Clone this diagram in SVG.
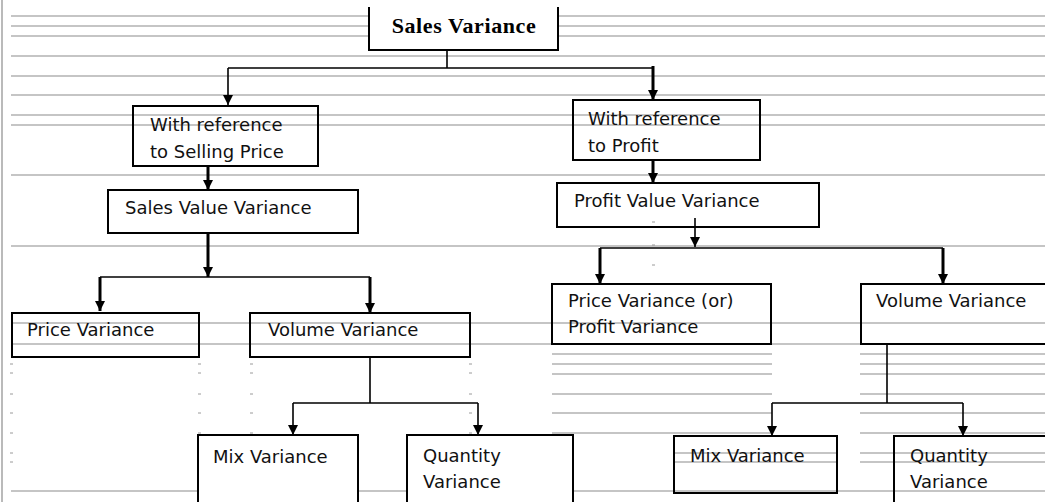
<svg xmlns="http://www.w3.org/2000/svg" width="1045" height="502" viewBox="0 0 1045 502">
  <style>
    .rule { stroke: #8c8c8c; stroke-width: 1.2; fill: none; }
    .tick { stroke: #9a9a9a; stroke-width: 1; fill: none; }
    .box { fill: none; stroke: #000; stroke-width: 2; }
    .boxw { fill: #fff; stroke: #000; stroke-width: 2; }
    .lbl { font-family: "DejaVu Sans", "Verdana", sans-serif; font-size: 18px; fill: #111; }
    .title { font-family: "Liberation Serif", "Times New Roman", serif; font-size: 22px; letter-spacing: 0.6px; font-weight: bold; fill: #000; }
    .wire { stroke: #000; stroke-width: 1.6; fill: none; }
    .wire-b { stroke: #000; stroke-width: 3; fill: none; }
  </style>
  <defs>
    <marker id="arrow" viewBox="0 0 10 10" refX="10" refY="5" markerWidth="10" markerHeight="11" markerUnits="userSpaceOnUse" orient="auto">
      <path d="M0,0 L10,5 L0,10 Z" fill="#000"/>
    </marker>
  </defs>

  <rect width="1045" height="502" fill="#fff"/>

  <!-- ruled background lines -->
  <g id="rules">
    <line class="rule" x1="2" y1="0" x2="2" y2="502"/>
    <line class="rule" x1="11" y1="16" x2="1045" y2="16"/>
    <line class="rule" x1="11" y1="26" x2="1045" y2="26"/>
    <line class="rule" x1="11" y1="36" x2="1045" y2="36"/>
    <line class="rule" x1="11" y1="56" x2="1045" y2="56"/>
    <line class="rule" x1="11" y1="76" x2="1045" y2="76"/>
    <line class="rule" x1="11" y1="95" x2="1045" y2="95"/>
    <line class="rule" x1="11" y1="115" x2="1045" y2="115"/>
    <line class="rule" x1="11" y1="125" x2="1045" y2="125"/>
    <line class="rule" x1="11" y1="175" x2="1045" y2="175"/>
    <line class="rule" x1="11" y1="246" x2="1045" y2="246"/>
    <line class="rule" x1="11" y1="323" x2="1045" y2="323"/>
    <line class="rule" x1="11" y1="344" x2="1045" y2="344"/>
    <path class="rule" d="M552,354H772M860,354H1045M552,364H772M860,364H1045M552,374H772M860,374H1045M552,394H772M860,394H1045M552,413H772M860,413H1045M552,433H772M860,433H1045"/>
    <path class="rule" d="M552,453H573M674,453H837M860,453H1045M552,462H573M674,462H837M860,462H1045"/>
    <line class="rule" x1="11" y1="491" x2="1045" y2="491"/>
    <path class="tick" d="M10,364h3M10,373h3M10,394h3M10,413h3M10,433h3M10,453h3M10,462h3
      M198,364h3M198,373h3M198,394h3M198,413h3M198,433h3
      M250,364h3M250,373h3M250,394h3M250,413h3M250,433h3
      M469,364h3M469,373h3M469,394h3M469,413h3M469,433h3
      M652,222h3M652,245h3M652,265h3M652,284h3"/>
  </g>

  <!-- connectors -->
  <g id="connectors">
    <path class="wire" d="M447,50V68M228,68H653"/>
    <path class="wire" d="M228,68V105" marker-end="url(#arrow)"/>
    <path class="wire-b" d="M653,66V100" marker-end="url(#arrow)"/>
    <path class="wire-b" d="M208,166V190" marker-end="url(#arrow)"/>
    <path class="wire-b" d="M208,233V277" marker-end="url(#arrow)"/>
    <path class="wire" d="M100,277H370"/>
    <path class="wire-b" d="M100,277V311" marker-end="url(#arrow)"/>
    <path class="wire-b" d="M370,277V313" marker-end="url(#arrow)"/>
    <path class="wire" d="M370,357V403M293,403H478"/>
    <path class="wire" d="M293,403V435" marker-end="url(#arrow)"/>
    <path class="wire" d="M478,403V435" marker-end="url(#arrow)"/>
    <path class="wire-b" d="M653,160V183" marker-end="url(#arrow)"/>
    <path class="wire" d="M695,218V247" marker-end="url(#arrow)"/>
    <path class="wire" d="M600,248H943"/>
    <path class="wire-b" d="M600,248V284" marker-end="url(#arrow)"/>
    <path class="wire-b" d="M943,248V284" marker-end="url(#arrow)"/>
    <path class="wire" d="M887,344V403M772,403H963"/>
    <path class="wire" d="M772,403V436" marker-end="url(#arrow)"/>
    <path class="wire" d="M963,403V436" marker-end="url(#arrow)"/>
  </g>

  <!-- nodes -->
  <g id="sales-variance">
    <rect x="369" y="7" width="189" height="43" fill="#fff"/>
    <path class="box" d="M369,7V50H558V7"/>
    <text class="title" x="464" y="33" text-anchor="middle">Sales Variance</text>
  </g>

  <g id="ref-selling-price">
    <rect class="box" x="133" y="106" width="185" height="60"/>
    <text class="lbl" x="150" y="131">With reference</text>
    <text class="lbl" x="150" y="158">to Selling Price</text>
  </g>

  <g id="ref-profit">
    <rect class="box" x="573" y="100" width="187" height="60"/>
    <text class="lbl" x="588" y="125">With reference</text>
    <text class="lbl" x="588" y="152">to Profit</text>
  </g>

  <g id="sales-value-variance">
    <rect class="box" x="108" y="190" width="250" height="43"/>
    <text class="lbl" x="125" y="214">Sales Value Variance</text>
  </g>

  <g id="profit-value-variance">
    <rect class="box" x="557" y="183" width="262" height="44"/>
    <text class="lbl" x="574" y="207">Profit Value Variance</text>
  </g>

  <g id="price-variance">
    <rect class="box" x="12" y="313" width="187" height="44"/>
    <text class="lbl" x="27" y="336">Price Variance</text>
  </g>

  <g id="volume-variance-sales">
    <rect class="box" x="250" y="313" width="220" height="44"/>
    <text class="lbl" x="268" y="336">Volume Variance</text>
  </g>

  <g id="price-profit-variance">
    <rect class="box" x="552" y="284" width="219" height="60"/>
    <text class="lbl" x="568" y="307">Price Variance (or)</text>
    <text class="lbl" x="568" y="333">Profit Variance</text>
  </g>

  <g id="volume-variance-profit">
    <rect class="box" x="861" y="284" width="200" height="60"/>
    <text class="lbl" x="876" y="307">Volume Variance</text>
  </g>

  <g id="mix-variance-sales">
    <rect class="boxw" x="198" y="435" width="160" height="80"/>
    <text class="lbl" x="213" y="463">Mix Variance</text>
  </g>

  <g id="quantity-variance-sales">
    <rect class="boxw" x="407" y="435" width="166" height="80"/>
    <text class="lbl" x="423" y="462">Quantity</text>
    <text class="lbl" x="423" y="488">Variance</text>
  </g>

  <g id="mix-variance-profit">
    <rect class="box" x="674" y="436" width="163" height="57"/>
    <text class="lbl" x="690" y="462">Mix Variance</text>
  </g>

  <g id="quantity-variance-profit">
    <rect class="box" x="894" y="436" width="170" height="80"/>
    <text class="lbl" x="910" y="462">Quantity</text>
    <text class="lbl" x="910" y="488">Variance</text>
  </g>
</svg>
